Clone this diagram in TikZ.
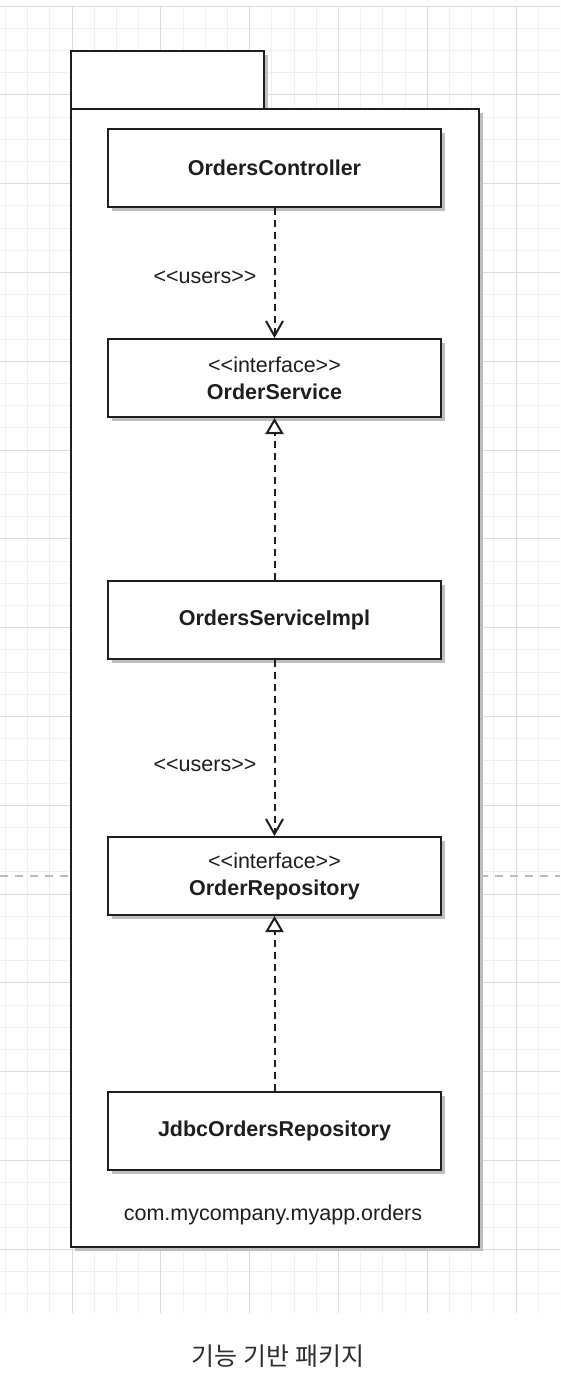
\documentclass[tikz,border=0pt]{standalone}
\usepackage{fontspec}
\setmainfont{Liberation Sans}[Ligatures=TeXOff]
\newfontfamily\krfont{Noto Sans CJK KR}
\usetikzlibrary{arrows.meta,shadows}
\definecolor{gridminor}{HTML}{EFEFEF}
\definecolor{gridmajor}{HTML}{DADADA}
\definecolor{ink}{HTML}{1E1E1E}
\definecolor{shade}{HTML}{BEBEBE}
\definecolor{pagebreak}{HTML}{BDBDBD}
\definecolor{captext}{HTML}{2E2E2E}
\begin{document}
\begin{tikzpicture}[x=1pt,y=-1pt,
  shadowed/.style={drop shadow={shadow xshift=4pt,shadow yshift=-4pt,fill=shade,opacity=1}},
  umlbox/.style={draw=ink,line width=2pt,fill=white,shadowed,minimum width=333pt,minimum height=78pt,inner sep=0pt,text=ink,align=center,font=\fontsize{21.5}{27}\selectfont},
  boldname/.style={font=\bfseries\fontsize{21.5}{27}\selectfont},
  pkgpart/.style={draw=ink,line width=2pt,fill=white,shadowed,inner sep=0pt},
  dep/.style={draw=ink,line width=2pt,dash pattern=on 7pt off 5pt,-{Straight Barb[length=15pt,width=17pt]}},
  realize/.style={draw=ink,line width=2pt,dash pattern=on 7pt off 5pt,-{Triangle[length=16pt,width=18pt,fill=white]}},
  lbl/.style={text=ink,font=\fontsize{21.5}{26}\selectfont,inner sep=0pt}]

\fill[white] (0,0) rectangle (560,1398);
\useasboundingbox (0,0) rectangle (560,1398);

% grid background
\begin{scope}
\clip (0,6) rectangle (560,1313);
\foreach \i in {0,...,25} \draw[gridminor,line width=1pt] ({5.4+22.2*\i},6) -- ++(0,1307);
\foreach \j in {0,...,59} \draw[gridminor,line width=1pt] (0,{6+22.2*\j}) -- ++(560,0);
\foreach \i in {0,...,5} \draw[gridmajor,line width=1pt] ({72+88.8*\i},6) -- ++(0,1307);
\foreach \j in {0,...,14} \draw[gridmajor,line width=1pt] (0,{6+88.8*\j}) -- ++(560,0);
\end{scope}

% page break line
\draw[pagebreak,line width=1.5pt,dash pattern=on 8pt off 7pt] (0,876) -- (560,876);

% package
\node[pkgpart,minimum width=193pt,minimum height=58pt] (tab) at (167.5,80) {};
\node[pkgpart,minimum width=408pt,minimum height=1138pt] (pkg) at (275,678) {};

% classes
\node[umlbox,boldname] (ctrl) at (274.5,168) {OrdersController};
\node[umlbox] (svc) at (274.5,378) {<<interface>>\\\textbf{OrderService}};
\node[umlbox,boldname] (impl) at (274.5,620) {OrdersServiceImpl};
\node[umlbox] (repo) at (274.5,876) {<<interface>>\\\textbf{OrderRepository}};
\node[umlbox,boldname] (jdbc) at (274.5,1130.5) {JdbcOrdersRepository};

% connectors
\draw[dep] (ctrl.south) -- (svc.north);
\draw[realize] (impl.north) -- (svc.south);
\draw[dep] (impl.south) -- (repo.north);
\draw[realize] (jdbc.north) -- (repo.south);

% labels
\node[lbl] (uses1) at (205,277) {<<users>>};
\node[lbl] (uses2) at (205,765) {<<users>>};
\node[lbl] (pkgname) at (273,1215) {com.mycompany.myapp.orders};

% caption
\node[text=captext,inner sep=0pt,font=\krfont\fontsize{25}{29}\selectfont] (cap) at (278,1356) {기능 기반 패키지};
\end{tikzpicture}
\end{document}
